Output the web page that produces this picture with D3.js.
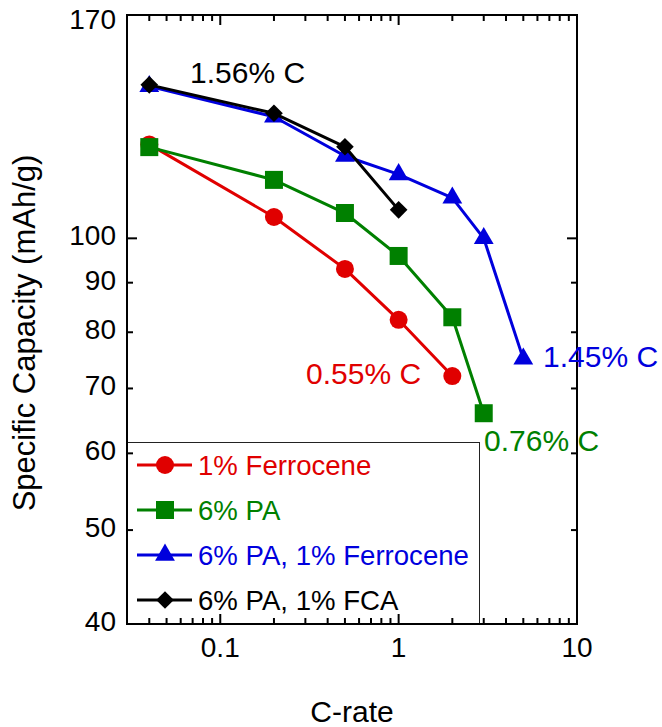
<!DOCTYPE html>
<html><head><meta charset="utf-8">
<script src="https://cdn.jsdelivr.net/npm/d3@7"></script>
<style>
html,body{margin:0;padding:0;background:#fff;}
text{font-family:"Liberation Sans",Arial,sans-serif;}
</style></head>
<body><svg id="chart" width="662" height="727"></svg>
<script>
const seriesNames = ["1% Ferrocene", "6% PA", "6% PA, 1% Ferrocene", "6% PA, 1% FCA"];
const seriesColors = ["#e00000", "#008000", "#0000dd", "#000000"];
const seriesSymbols = ["circle", "square", "triangle", "diamond"];

const xFerrocene = [0.04, 0.2, 0.5, 1, 2];
const yFerrocene = [125, 105.2, 93, 82.4, 72.1];

const xPA = [0.04, 0.2, 0.5, 1, 2, 3];
const yPA = [124.2, 114.9, 106.2, 95.9, 82.9, 66.0];

const xPAFerrocene = [0.04, 0.2, 0.5, 1, 2, 3, 5];
const yPAFerrocene = [143.5, 133.5, 121.6, 116.4, 110.1, 100, 75.1];

const xPAFCA = [0.04, 0.2, 0.5, 1];
const yPAFCA = [144.0, 134.6, 124.3, 107];

const annotations = ["0.55% C", "0.76% C", "1.45% C", "1.56% C"];

const xTickValues = [0.1, 1, 10];
const yTickValues = [40, 50, 60, 70, 80, 90, 100, 170];

const seriesX = [xFerrocene, xPA, xPAFerrocene, xPAFCA];
const seriesY = [yFerrocene, yPA, yPAFerrocene, yPAFCA];

const svg = d3.select("#chart");
const L = 127, T = 15, R = 577, B = 624;

const x = d3.scaleLog().domain([0.03, 10]).range([L, R]);
const y = d3.scaleLog().domain([40, 170]).range([B, T]);

// minor x ticks
const xMinor = [];
for (let d = 0.01; d <= 1; d *= 10) {
  for (let k = 2; k <= 9; k++) { const v = +(k * d).toPrecision(3); if (v >= 0.03 && v < 10) xMinor.push(v); }
}

const g = svg.append("g");

// legend box (beneath data)
g.append("rect").attr("x", L + 0.5).attr("y", 442.5).attr("width", 479 - L).attr("height", B - 442)
  .attr("fill", "#fff").attr("stroke", "#222").attr("stroke-width", 1);

// frame
g.append("rect").attr("x", L).attr("y", T).attr("width", R - L).attr("height", B - T)
  .attr("fill", "none").attr("stroke", "#000").attr("stroke-width", 2);

// ticks
const tk = g.append("g").attr("stroke", "#000").attr("stroke-width", 2);
xMinor.forEach(v => {
  tk.append("line").attr("x1", x(v)).attr("x2", x(v)).attr("y1", B).attr("y2", B - 6);
  tk.append("line").attr("x1", x(v)).attr("x2", x(v)).attr("y1", T).attr("y2", T + 6);
});
xTickValues.forEach(v => {
  tk.append("line").attr("x1", x(v)).attr("x2", x(v)).attr("y1", B).attr("y2", B - 10);
  tk.append("line").attr("x1", x(v)).attr("x2", x(v)).attr("y1", T).attr("y2", T + 10);
});
yTickValues.forEach(v => {
  const len = (v === 100) ? 10 : 6;
  tk.append("line").attr("x1", L).attr("x2", L + len).attr("y1", y(v)).attr("y2", y(v));
  tk.append("line").attr("x1", R).attr("x2", R - len).attr("y1", y(v)).attr("y2", y(v));
});

// tick labels
g.selectAll(".xl").data(xTickValues).enter().append("text")
  .attr("x", d => x(d)).attr("y", 657).attr("text-anchor", "middle")
  .attr("font-size", 28).attr("fill", "#000").text(d => String(d));
g.selectAll(".yl").data(yTickValues).enter().append("text")
  .attr("x", 116).attr("y", d => d === 170 ? y(d) + 14 : y(d) + 7).attr("text-anchor", "end")
  .attr("font-size", 28).attr("fill", "#000").text(d => d);

// axis titles
g.append("text").attr("x", (L + R) / 2).attr("y", 722).attr("text-anchor", "middle")
  .attr("font-size", 30).attr("fill", "#000").text("C-rate");
g.append("text").attr("transform", "translate(35," + 333 + ") rotate(-90)")
  .attr("text-anchor", "middle").attr("font-size", 31).attr("fill", "#000")
  .text("Specific Capacity (mAh/g)");

function symPath(name) {
  if (name === "circle") return d3.symbol(d3.symbolCircle, Math.PI * 9 * 9)();
  if (name === "square") return d3.symbol(d3.symbolSquare, 18 * 18)();
  if (name === "triangle") return d3.symbol(d3.symbolTriangle, 170)();
  return d3.symbol(d3.symbolSquare, 12.5 * 12.5)();
}
function symTransform(name, px, py) {
  return "translate(" + px + "," + py + ")" + (name === "diamond" ? " rotate(45)" : "");
}

const line = d3.line().x(d => x(d[0])).y(d => y(d[1]));

seriesNames.forEach((name, i) => {
  const pts = seriesX[i].map((xv, j) => [xv, seriesY[i][j]]);
  const sg = g.append("g");
  sg.append("path").attr("d", line(pts)).attr("fill", "none")
    .attr("stroke", seriesColors[i]).attr("stroke-width", 3).attr("stroke-linejoin", "round");
  sg.selectAll("path.m").data(pts).enter().append("path").attr("class", "m")
    .attr("d", symPath(seriesSymbols[i]))
    .attr("transform", d => symTransform(seriesSymbols[i], x(d[0]), y(d[1])))
    .attr("fill", seriesColors[i]);
});

// annotations
const annPos = [[306, 384], [484, 451], [543, 367], [190, 83]];
annotations.forEach((t, i) => {
  g.append("text").attr("x", annPos[i][0]).attr("y", annPos[i][1])
    .attr("font-size", 30).attr("fill", seriesColors[i]).text(t);
});

// legend entries
const legY = [465, 510, 555, 600];
seriesNames.forEach((name, i) => {
  const lg = g.append("g");
  lg.append("line").attr("x1", 137).attr("x2", 192).attr("y1", legY[i]).attr("y2", legY[i])
    .attr("stroke", seriesColors[i]).attr("stroke-width", 3);
  lg.append("path").attr("d", symPath(seriesSymbols[i]))
    .attr("transform", symTransform(seriesSymbols[i], 165, legY[i]))
    .attr("fill", seriesColors[i]);
  lg.append("text").attr("x", 198).attr("y", legY[i] + 10).attr("font-size", 27.6)
    .attr("fill", seriesColors[i]).text(name);
});
</script></body></html>
